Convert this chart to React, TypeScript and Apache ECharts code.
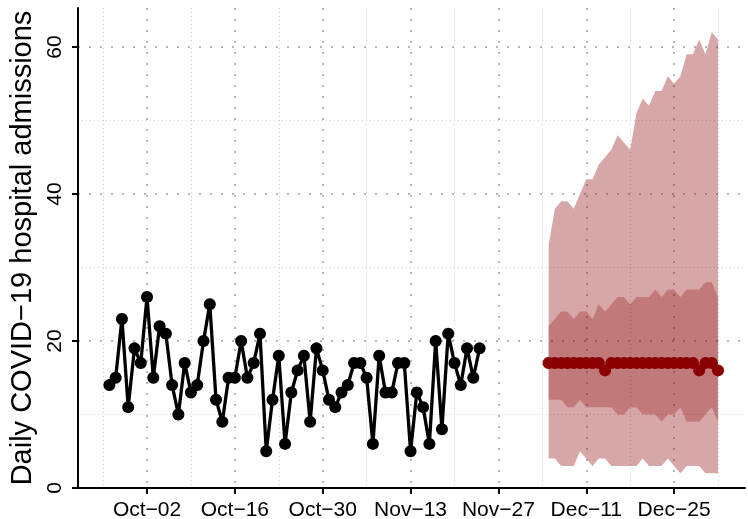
import { useEffect, useRef } from "react";
import * as echarts from "echarts";

// Observed daily admissions (one per day from obsStart)
const obsStart = "2021-09-26";
const observed = [
  14, 15, 23, 11, 19, 17, 26, 15, 22, 21,
  14, 10, 17, 13, 14, 20, 25, 12, 9, 15,
  15, 20, 15, 17, 21, 5, 12, 18, 6, 13,
  16, 18, 9, 19, 16, 12, 11, 13, 14, 17,
  17, 15, 6, 18, 13, 13, 17, 17, 5, 13,
  11, 6, 20, 8, 21, 17, 14, 19, 15, 19,
];

// Forecast (one per day from fcStart)
const fcStart = "2021-12-05";
const fcMedian = [17, 17, 17, 17, 17, 17, 17, 17, 17, 16, 17, 17, 17, 17, 17, 17, 17, 17, 17, 17, 17, 17, 17, 17, 16, 17, 17, 16];
const outerLower = [4, 4, 3, 3, 3, 5, 4, 3, 4, 4, 3, 3, 3, 3, 3, 4, 3, 3, 3, 4, 3, 2, 3, 3, 3, 2, 2, 2];
const outerUpper = [33, 38, 39, 39, 38, 40, 42, 42, 44, 45, 46, 48, 47, 46, 51, 53, 52, 54, 54, 56, 55, 56, 59, 59, 61, 59, 62, 61];
const innerLower = [12, 12, 12, 11, 11, 12, 11, 11, 11, 11, 11, 10, 10, 11, 11, 10, 10, 10, 9, 10, 10, 11, 9, 9, 9, 10, 11, 9];
const innerUpper = [22, 23, 24, 24, 23, 24, 24, 23, 25, 24, 25, 26, 26, 25, 26, 26, 26, 27, 26, 27, 27, 26, 27, 27, 27, 28, 28, 26];

// Axis ticks
const refDate = "2021-10-02";
const xTickDates = ["2021-10-02", "2021-10-16", "2021-10-30", "2021-11-13", "2021-11-27", "2021-12-11", "2021-12-25"];
const xTickLabels = ["Oct\u221202", "Oct\u221216", "Oct\u221230", "Nov\u221213", "Nov\u221227", "Dec\u221211", "Dec\u221225"];
const xMinorDates = ["2021-09-25", "2021-10-09", "2021-10-23", "2021-11-06", "2021-11-20", "2021-12-04", "2021-12-18", "2022-01-01"];
const yTicks = [0, 20, 40, 60];
const yMinor = [10, 30, 50];
const yTitle = "Daily COVID\u221219 hospital admissions";

const DAY = 86400000;
const toDay = (s: string) => {
  const [y, m, d] = s.split("-").map(Number);
  const [ry, rm, rd] = refDate.split("-").map(Number);
  return Math.round((Date.UTC(y, m - 1, d) - Date.UTC(ry, rm - 1, rd)) / DAY);
};
const seq = (start: string, vals: number[]) => {
  const s0 = toDay(start);
  return vals.map((v, i) => [s0 + i, v]);
};

const bandSeries = (lower: number[], upper: number[], fill: string) => {
  const s0 = toDay(fcStart);
  const data = lower.map((lo, i) => [s0 + i, lo, upper[i]]);
  return {
    type: "custom",
    silent: true,
    data,
    encode: { x: 0, y: [1, 2] },
    renderItem: (params: any, api: any) => {
      if (params.dataIndex !== 0) return null;
      const top = data.map((d) => api.coord([d[0], d[2]]));
      const bottom = data.map((d) => api.coord([d[0], d[1]])).reverse();
      return {
        type: "polygon",
        shape: { points: top.concat(bottom) },
        style: { fill },
      };
    },
  };
};

export default function App() {
  const ref = useRef<HTMLDivElement>(null);
  useEffect(() => {
    if (!ref.current) return;
    const chart = echarts.init(ref.current, undefined, { renderer: "svg" });
    const tickDays = xTickDates.map(toDay);
    const minorDays = xMinorDates.map(toDay);
    const majorGrid = { show: true, lineStyle: { color: "#b5b5b5", width: 2, type: [2, 9] } };
    const minorGrid = { show: true, lineStyle: { color: "#cdcdcd", width: 1, type: [1, 3] } };
    const axisLineStyle = { color: "#000", width: 2 };
    const xMin = -11;
    const xMax = 95.3;
    const yMax = 65.3;
    chart.setOption({
      animation: false,
      textStyle: { fontFamily: "Liberation Sans" },
      grid: { left: 78, right: 3, top: 8, bottom: 31, outerBoundsMode: "none" },
      xAxis: [
        {
          type: "value",
          min: xMin,
          max: xMax,
          axisLine: { show: true, onZero: false, lineStyle: axisLineStyle },
          axisTick: { show: true, length: 6, lineStyle: axisLineStyle, customValues: tickDays },
          axisLabel: {
            customValues: tickDays,
            fontSize: 21,
            color: "#000",
            margin: 10,
            formatter: (v: number) => {
              const i = tickDays.indexOf(Math.round(v));
              return i >= 0 ? xTickLabels[i] : "";
            },
          },
          splitLine: majorGrid,
        },
        {
          type: "value",
          min: xMin,
          max: xMax,
          position: "bottom",
          axisLine: { show: false },
          axisTick: { show: false, customValues: minorDays },
          axisLabel: { show: false, customValues: minorDays },
          splitLine: minorGrid,
        },
      ],
      yAxis: [
        {
          type: "value",
          min: 0,
          max: yMax,
          axisLine: { show: true, onZero: false, lineStyle: axisLineStyle },
          axisTick: { show: true, length: 6, lineStyle: axisLineStyle, customValues: yTicks },
          axisLabel: { customValues: yTicks, rotate: 90, fontSize: 21, color: "#000", margin: 14 },
          splitLine: majorGrid,
          name: yTitle,
          nameLocation: "middle",
          nameGap: 43,
          nameTextStyle: { fontSize: 29, color: "#000" },
        },
        {
          type: "value",
          min: 0,
          max: yMax,
          position: "left",
          axisLine: { show: false },
          axisTick: { show: false, customValues: yMinor },
          axisLabel: { show: false, customValues: yMinor },
          splitLine: minorGrid,
        },
      ],
      series: [
        bandSeries(outerLower, outerUpper, "rgba(139,0,0,0.35)"),
        bandSeries(innerLower, innerUpper, "rgba(139,0,0,0.27)"),
        {
          type: "line",
          data: seq(obsStart, observed),
          symbol: "circle",
          symbolSize: 12,
          itemStyle: { color: "#000" },
          lineStyle: { color: "#000", width: 3.3 },
        },
        {
          type: "scatter",
          data: seq(fcStart, fcMedian),
          symbolSize: 12,
          itemStyle: { color: "#8b0000", opacity: 1 },
        },
      ],
    });
    return () => chart.dispose();
  }, []);
  return <div ref={ref} style={{ position: "fixed", left: 0, top: 0, width: 748, height: 519 }} />;
}
